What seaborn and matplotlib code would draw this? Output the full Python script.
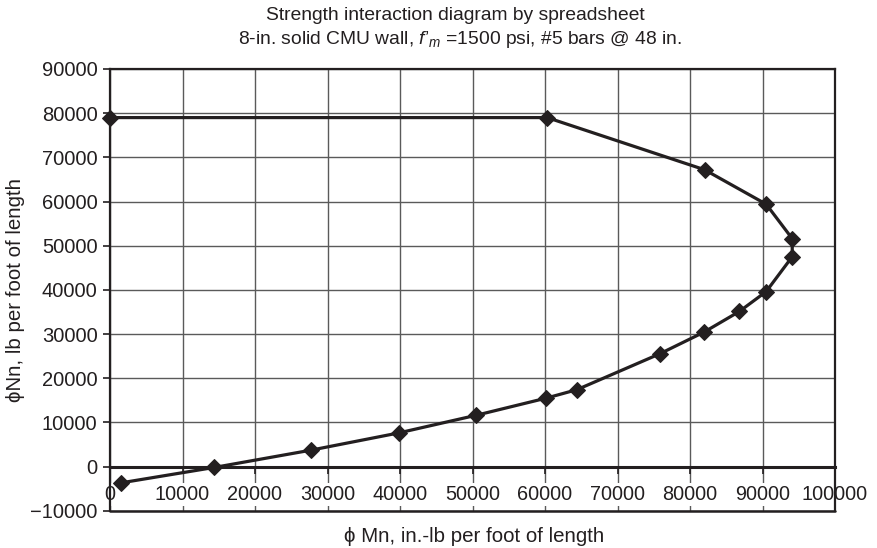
import matplotlib
matplotlib.use("Agg")
import matplotlib.pyplot as plt
import seaborn as sns
import pandas as pd

# Interaction diagram points: design moment vs. design axial load
phi_mn = [0, 60300, 82000, 90500, 94100, 94100, 90500, 86800, 81900,
          75800, 64400, 60200, 50500, 39800, 27700, 14400, 1500]
phi_nn = [79000, 79000, 67200, 59400, 51600, 47500, 39600, 35100, 30400,
          25500, 17400, 15500, 11600, 7600, 3700, -200, -3700]

x_ticks = list(range(0, 100001, 10000))
y_ticks = list(range(-10000, 90001, 10000))

title_lines = ["Strength interaction diagram by spreadsheet",
               "8-in. solid CMU wall, $f$\u2019$_m$ =1500 psi, #5 bars @ 48 in."]
x_label = "\u03d5 Mn, in.-lb per foot of length"
y_label = "\u03d5Nn, lb per foot of length"

sns.set_theme(style="white")
plt.rcParams["font.family"] = ["Liberation Sans", "DejaVu Sans"]
plt.rcParams["mathtext.fontset"] = "custom"
plt.rcParams["mathtext.rm"] = "Liberation Sans"
plt.rcParams["mathtext.it"] = "Liberation Sans:italic"
plt.rcParams["axes.unicode_minus"] = True

ink = "#231f20"
df = pd.DataFrame({"Mn": phi_mn, "Nn": phi_nn})

fig = plt.figure(figsize=(8.78, 5.48), dpi=100)
ax = fig.add_axes([110 / 878, 1 - 510.7 / 548, 725 / 878, 441.7 / 548])

sns.lineplot(data=df, x="Mn", y="Nn", sort=False, estimator=None, ax=ax,
             color=ink, linewidth=2.3, marker="D", markersize=8,
             markeredgecolor=ink, markerfacecolor=ink, zorder=5,
             clip_on=False)

ax.set_xlim(0, 100000)
ax.set_ylim(-10000, 90000)
ax.set_xticks(x_ticks)
ax.set_yticks(y_ticks)
ax.set_xticklabels([str(v) for v in x_ticks])
ax.set_yticklabels([str(v).replace("-", "\u2212") for v in y_ticks])

ax.grid(True, color="#5a5a5a", linewidth=1.0)
ax.set_axisbelow(True)

for side in ["left", "right", "top", "bottom"]:
    ax.spines[side].set_visible(True)
    ax.spines[side].set_color(ink)
    ax.spines[side].set_linewidth(1.6)

# horizontal axis crosses at zero load; frame line kept at the lower limit
ax.spines["bottom"].set_position(("data", 0))
ax.spines["bottom"].set_linewidth(2.2)
ax.axhline(-10000, color=ink, linewidth=1.8, clip_on=False, zorder=3)

ax.tick_params(axis="y", which="major", left=True, length=5, width=1.2,
               color=ink, labelsize=14.5, pad=4, labelcolor=ink)
ax.tick_params(axis="x", which="major", bottom=True, direction="out",
               length=5, width=1.2, color=ink,
               labelsize=14.3, pad=8, labelcolor=ink)

# tick labels sit on an opaque patch, so the grid stops around them
for lbl in ax.get_xticklabels():
    lbl.set_bbox(dict(facecolor="white", edgecolor="none", pad=1.5))
    lbl.set_zorder(4)

ax.set_xlabel("")
ax.set_ylabel("")
fig.text(474 / 878, 1 - 536 / 548, x_label, ha="center", va="center",
         fontsize=14.8, color=ink)
fig.text(16 / 878, 1 - 290 / 548, y_label, ha="center", va="center",
         rotation=90, fontsize=14.8, color=ink)

fig.text(455 / 878, 1 - 15 / 548, title_lines[0], ha="center", va="center",
         fontsize=13.9, color=ink)
fig.text(460 / 878, 1 - 39 / 548, title_lines[1], ha="center", va="center",
         fontsize=13.9, color=ink)

fig.savefig("out.png", dpi=100)
